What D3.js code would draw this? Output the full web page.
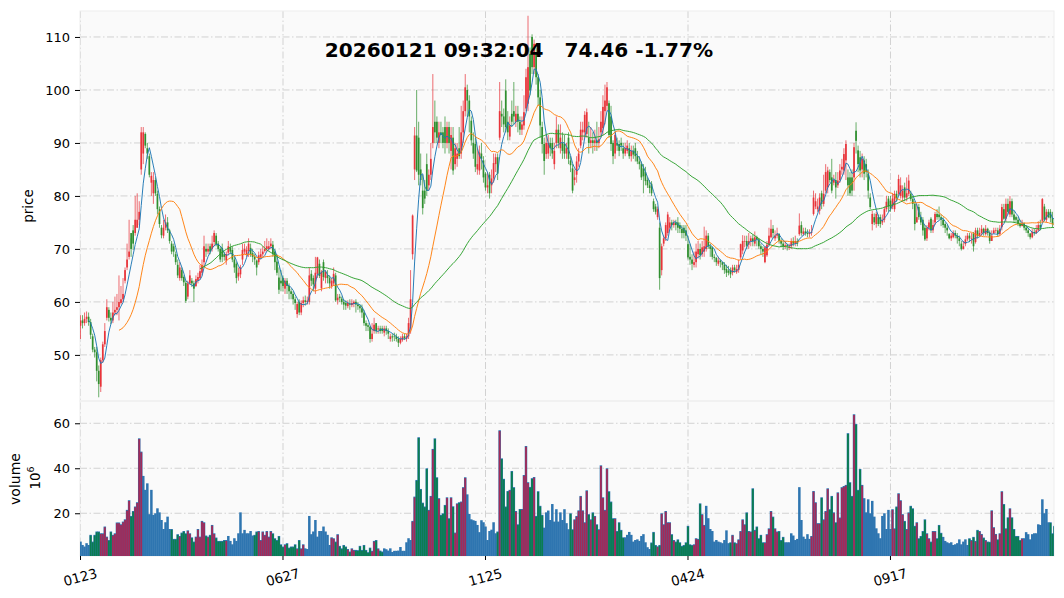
<!DOCTYPE html>
<html><head><meta charset="utf-8">
<script src="https://d3js.org/d3.v7.min.js"></script>
<style>html,body{margin:0;padding:0;background:#fff}svg{display:block;font-family:"DejaVu Sans",sans-serif}</style>
</head><body><svg id="c" width="1064" height="598"></svg>
<script>
const titleText="20260121 09:32:04   74.46 -1.77%";
const tickIdx=[0,100,200,300,400];
const tickLabels=["0123","0627","1125","0424","0917"];
const priceTicks=[50,60,70,80,90,100,110];
const volTicks=[20,40,60];
const closes=[
56.5,56,56.8,57.2,56.2,53.8,51,50.5,47,44.5,
49,52,54.5,59,57,56.5,58,58.5,59,60,
60.5,61.5,66,68,69.5,70,71,75.5,75.5,77,
92,92,89.5,88,84,83.8,83,80.5,77.5,74.7,
72.6,74,75,73.5,71.5,69.5,69.5,67.5,65,66.5,
64.5,63.7,60.2,63.5,65,63.5,62.5,64.3,64.7,65.8,
67,70.5,69.5,70,69.5,71,73,70.8,70,68,
68.5,68.5,69,70.5,69.5,68,66.5,64.5,65.5,66.5,
69.8,70,69.8,71,69,68.5,68,66.5,68.8,69,
69.5,70,70.5,70.5,71,69,67.5,65.5,62.3,63.5,
63,64,63,62,61.5,60.5,59.8,59.6,58,59.8,
60.3,60,60.2,65,64,63.3,65.5,68.4,64.9,65.7,
64.7,65.7,64.5,63.5,64,65.3,60.3,60.8,60.7,60,
59.5,59.3,59.8,59.5,59.8,60,59.5,59.2,58.8,58,
56,55.5,55.3,53,54,55.7,54.5,55,54.5,54.5,
55,54.5,54,53.5,53.3,53.5,53,52.3,53,53.5,
53.2,53.5,56,60.5,76.3,91.4,84.8,84,83,77.7,
79.5,81,84,87,93,92,91,92,91.5,90,
90,93,90,91.5,84.8,89,88,87.5,92,96,
100.5,98,95,90.5,88,85.5,86,88.2,87,83.5,
81.6,82,80.5,83.3,86.2,87.3,84.2,96,95,93.5,
93,92,93.3,94,95,95.5,94,92.5,93.5,95.8,
102.4,104.3,99.9,104.3,108.7,102.4,98.6,93.3,89.8,86.6,
90,90,89,88,88.5,92.5,90,91,88.5,88,
89,87,85.8,81,83.5,86.5,88,92.5,92.5,95.3,
95.8,90,90.5,90,90.5,90,90.7,94,96.8,98,
100.5,91.5,89.8,87.5,91.5,89.5,88.5,89.5,88,89,
89.5,87.5,88.5,87.8,87.5,86.5,86,83.5,83.7,82.8,
82,81.5,80.5,77.5,77,77.5,64.5,70.5,72,74.5,
76.5,75,74.5,75,74.5,74,73.8,73,73,72.5,
68.4,68,67.2,67.5,69.5,70,68.8,70.3,70.5,72.5,
70.5,70,68.5,68.3,67.5,67.8,67.5,67,66,65.5,
65.5,65.2,66.5,66,66.2,67,70.9,71.5,71.5,70.6,
71.5,72,71.5,72.2,71.8,70.5,70,69.5,70.3,70.8,
72.5,73.8,73,72.5,72.8,71.5,71,70.5,70.7,70.5,
70.5,71.5,71,71.5,71,74.4,73,73.3,73,72.8,
73,73.2,79.7,79,78,79.7,78.5,80.4,84.5,84.8,
83,81,83,81.6,82.9,84.8,85.5,87.9,89.8,82,
80.5,81,89.2,90.4,86,84.8,87,84.2,84.5,81,
77.9,76.6,75,76.6,74.7,74.7,75.5,77.5,78.9,78,
77.5,79.5,80.4,79.5,83.2,82,81,79.7,80.5,82.9,
79.4,78.5,74.7,76,76,75,73.5,71.8,74,75,
73.5,74.5,76.6,76,76,75.5,74.5,74,73.5,72,
72.5,73,72.5,72,71.5,70,70.5,71.8,72.5,72,
72,70.5,73.5,72.5,73,73.8,73,73.8,73,71.5,
72.5,73.5,73.5,72.8,73.8,77.9,75.7,78.5,77,79,
76.5,75.5,75.5,74.7,74.3,74.8,74,73.5,73,72.2,
73.2,73,73.5,74.5,74,79.4,75.5,77,76,75.8,74.8,74.46];
const opens=[
55.5,56.5,56,56.8,57.2,56.2,53.5,51,50.5,47,
44,49,52,57,58.5,57,56.5,58,58.5,59,
59.8,60.5,64,66.5,68.5,73,73.5,73,74,75.5,
85,88,91.7,89,87.5,82.5,80.5,83,80.4,77.5,
74,72.5,74,75,73.5,71,70.5,69,67,64.5,
66,64.7,63.6,61,63.5,64,63.5,63,64,64.5,
65.5,67.5,70,69.5,70.5,70,71.3,72.5,71,70,
70.2,69,67.8,69.3,70.3,69.8,68,67.2,64.8,65.2,
68,69.5,69,69.6,70.2,69.2,68.5,67.8,67.5,68.5,
69,69.6,70,70,70.5,70.8,69.5,67.6,64.6,64,
64.5,62.5,64,63,62,61.5,60.5,57.7,60,58,
59.8,60.3,60,60,65.3,64.5,62.5,65.3,67.2,62.6,
67.5,64.5,65,64.5,63,63.5,65,60.3,61,60.6,
60,59.8,59.2,59.7,59.4,59.6,60,59.5,59.2,58.8,
58,56,55.6,55.3,53,54.5,56,54.8,55,55,
54.2,55,54.5,53,53.5,53.6,53.5,53,52.3,52.8,
53.5,53,53.5,55,69,85,91.4,91,85,81,
81,86,82,84,90,94,94,90,92,92,
93,90,93,88.5,91,86,87,89,88,92,
96,100,98,94.2,90,89.8,85,84.8,88,86.7,
84.2,81.6,84,82,83.3,86,87.3,91,95.5,95,
99.9,94,91.2,95.5,96,94,95.5,94,92.5,93.3,
96.5,97.4,106.8,110,104.3,106.8,102.4,98.6,93,89.8,
87.9,88,90,90,86,90,92.5,89,90,89.8,
88,91,86.7,85.2,83,84,86.5,89.5,92,92,
91.7,91,90,90.5,90,90.5,90,92,92.8,96,
97,97.5,95,90,88,90,89.8,90,89,88,
88.5,89,87.5,88.5,89,87.5,86.5,86,85.2,84.5,
83,82,82.3,79,78,76,74,66,71,72,
73,74,75,74.5,75,75,74.5,73.8,74,73.5,
70.9,68.5,68,67,67.5,69,70,69,69.5,70,
72.5,70.5,70.3,68.5,68.3,67.2,67.8,67.5,67,66.2,
65.9,66,65.5,66.5,65.6,66,68.4,69.7,71.5,71.5,
70.8,71.5,72,71,72.2,71.8,70.5,70,67.5,68.8,
70.8,72.2,73.8,72,72.5,72.8,71.5,71,70.5,70.7,
70.3,70.5,71.5,71,71.5,72.8,74.5,72.8,73.3,73,
72.8,73,76.6,78,77.5,77.2,80.5,78.5,81,81.6,
84.5,83.5,82.5,83,82,83,85,84.8,86.7,83.5,
83.5,83.5,83.5,92.3,88.6,87.3,85,86.7,86,84.2,
79.7,74.7,76,74.7,76,76,75,75.5,77.5,79.5,
79.1,78,77.5,80.4,80.4,80,79.7,81.6,79.7,80.4,
80.4,79.4,78.5,75,77.9,76,75.5,74,72,74,
75.7,73.5,75,76.6,76.5,76,75.5,74.7,74,72.8,
72,72.2,73,72.5,72,71,70,70.9,71.8,72.5,
72,72.9,71.3,73.5,72.5,73,73.8,72.8,73.8,73.1,
71.5,73,73.5,73.5,72.8,74.1,77.5,75.7,78.5,76.5,
79,76.5,76,75.5,74.7,74.3,74.8,74,73.5,72.9,
72.2,73.2,73,73.5,74.5,75.3,78,75.5,77,77,75.8,75];
const highs=[
57.5,57.5,58,58.2,58,56.8,54,51.5,51.5,48,
49.5,52.5,56,60.5,59,58,60,61,61.5,65,
63,64.5,66.5,71,75.5,72,74.5,80,80.5,79,
93,93,92,90,88,84.5,84.5,83.5,81,78,
74.5,75.5,76.5,76,73.8,71.5,71,69.5,68,67.5,
66.5,65,64,64,66,64.5,64,65,65.5,67,
68,72.5,71,71,71,72.5,73.5,73,71.5,70.5,
71,69.5,69.5,71.5,71,70.5,68.5,67.5,66.5,67,
71,71,70.5,72,71,70,69,68,69.5,70,
70.5,71.5,72,71.5,72,71.5,70,69,66.5,66,
65,64.5,64.5,63.5,62.5,62,61,60,60.5,60.3,
61,61.2,61,66.5,66,65,68.5,68.5,68,66,
68,66,66,65,64.5,66.5,65.5,61.5,61.5,61,
60.5,60.3,60.3,60.5,60.5,60.3,60.5,60,59.5,59.5,
58.5,56.5,56,55.5,56,57,56,55.5,55.5,55.5,
55.5,55.5,55,54,54,54.2,54,53.5,53.5,54,
54,54,57,66,76.5,93,100,94,88,84,
83,88,85,90,103,98,95,94,94,93,
95,94,94,93,93,90,90,93,97,98,
103,101,99,95,92,91,89,89.5,90,87.5,
84.5,84.5,84.5,85,88,88,88,101.5,98,96.5,
102,96,95,98,101.5,97,97,95,95,99,
104,114,108,110.5,109.5,108,103,100,94,91,
91.5,91.5,91,91,90,95,93.5,93.5,92,91.5,
90,92,87.5,86,85,87.5,89,94,94,96,
96.5,94,93,92,92.5,94,93,96,99,101,
101.5,98,97,90.5,92,91,90.5,91,90,90,
90.5,90,89.5,89.5,90,88.5,87.5,86.5,86,85.5,
83.5,83,82.8,79.5,78.5,78,75,71,72.5,75,
77,76,75.5,75.5,75.5,76,75,74.5,74.5,74.5,
72.5,71,69,69.5,71,71.5,71,71.5,74.2,73.5,
73,71,70.5,69,68.5,68.5,68,67.5,67.5,67,
66.8,66.5,67,67,67,68,71,72.6,72.5,72.5,
73,72.5,72.7,73.3,72.5,72,71,70.5,70.5,71.5,
74,75.5,74.5,73.5,74,73,72,71.5,71.5,71,
71,72,72.2,72.5,72,76.7,75.2,74,74,73.7,
73.7,74.5,81,80.5,79.5,80.5,81,84,86,85.5,
85,87,84,84.5,84.5,86,87,89,90.5,85,
84.5,85,90,93.9,89.5,88.5,88,87.5,87,85,
80.5,77.2,76.7,77,76.5,76.5,76.5,78,80,80,
80,80.5,81,81,84,83.5,82,82.5,83.5,84,
81,80,79,78.5,78.5,77,76,74.5,74.5,75.5,
76,75.5,77,77.5,78,76.5,76,75,74.5,73,
73,73.5,73.5,73,72.5,71.5,71.5,72.5,73,73,
73,73.2,74,74,74,74.5,74,74.5,74,73.5,
73.5,74,74,74,74.5,78.5,78.5,79.5,79.5,80,
79.5,77.2,76.3,76,75.5,75.5,75,74.5,74,73,
73.8,73.8,74.5,75.2,75.5,79.6,78.5,77.5,77.5,77.5,77,79.2];
const lows=[
53,55,55.5,56,55.5,53,50.5,49.5,45,42,
43,48.5,51.5,56.5,56.3,55.8,56,57.5,57.5,56.5,
59.5,60,63.5,66,68,68.5,69.8,72.5,74,74.5,
84,86,89,87,83.5,80,78.5,80,76.5,74,
72,72,73.5,73,71,69,68.5,67,64.5,64,
64,63,59.8,60.5,63.3,62.8,60,62.8,63.5,64.2,
65,66.5,68.5,69,69,69.5,70.5,70.5,69.5,67.5,
67.5,67.8,67,68.8,69,67.5,65.5,63.5,64,64.5,
67,69,68.5,68.5,68.5,67.5,67,65,67,68,
68.5,69.3,69.5,69.7,70,68.5,66,65,61.5,62,
62,61.5,61.5,60.5,60.5,59.5,58.5,57,57.5,57.5,
59,59.3,59.5,59.5,63,62,61.5,64.5,64.5,62,
64,63.5,63.5,62.5,62.5,63,60,59.5,60,59.5,
58.5,58.5,58.8,58.5,59,59,58,58.5,58,57,
55.5,54.5,54.5,52.3,52.5,54,54,54,54,54,
53.5,53.8,53,52.5,52.5,52.6,52.5,51.5,52,52.5,
52.8,52.5,53,54,68,83,84.5,82,82,76.5,
78.5,80,81,83,89,90,90,89,90,89,
88,89,88,85,84,85,85.5,87,87,90,
95,95,92,89.5,87,84.5,84,84,85,82.5,
81,80.5,79.5,80.5,82.5,84.5,83,90.5,93,92,
92,90.5,90.5,93,93.5,93,92,91.5,91.5,92.5,
96,96,99,103,103,101,97,91,88,84,
87,87,87.5,87,85,89,89,88,87,87,
87,86,84.5,80.5,82,82.5,85.5,89,90.5,91,
91,88,89,88,88.5,88.5,89,91,91.5,93.5,
96,91,88.5,86,87,88.5,87.5,88.5,87,87.5,
88,87,86.5,87,86.5,86,85,83,80.5,82,
81.5,80.5,80,77,76.5,75.5,62.3,65,70.5,71.5,
72.5,73.5,73.5,74,73.5,73,73,72,72,71.5,
68,67,66,66.5,66.5,68.2,68,68.5,68.5,69.5,
70,68.5,68,67.5,66.8,66.8,66.5,66,65.3,64.7,
65,64.5,65,65.5,65.3,65.5,68,69,70.3,70,
70,70.5,70.5,70.5,70.5,70,69,68.5,67.3,68.5,
70.5,72,72,71.5,72,71,70.3,69.8,70,69.7,
69.8,70,70.5,70.5,70.5,72.5,72.5,72.5,72.5,72.2,
72.2,72.5,76.3,77.5,77,76.5,77.5,78,80.5,80.5,
82.5,80.5,82,79.5,81.5,82.5,84,84,83,80,
80,80,81,88,84.5,83.5,83.5,83,83.5,79.5,
77.5,73.5,74.5,74,74.3,74,74.5,75,77,77,
77,77.5,77,79,80,79.5,79,79,79,80,
79,77.5,73.5,75,75.5,74.5,72.5,71.5,71.5,73.5,
73,73,74.5,75.5,75.5,74.3,74,73,72.5,71.8,
71.5,72,72,71,70.5,69.7,69.9,70.5,71.5,71.3,
71,69.5,71,72,72.3,72.5,72.5,72.5,72.5,71,
71.5,72.8,73,72.3,72.5,73.5,75.5,75.2,76.5,76,
76,75,75,74.3,74,74.3,73.5,73,72.3,71.8,
72,72.5,72.8,73.3,73.5,75,75.2,75,75.8,75,74,73.8];
const volumes=[
7.4,5.9,5.2,6.7,5.9,10.4,7.4,10.4,11.9,11.9,
11.1,11.1,14.1,9.6,8.1,11.9,10.4,11.1,15.9,15.9,
15.1,16.3,17.3,21.5,25.8,18.8,21,23,24.9,53.3,
47.4,36.6,30.4,33.3,19.6,30.4,19.3,20,22.2,20.4,
17,13,16,18.5,13,13,8.6,8.6,10.7,9.9,
11.4,12.1,11.1,12.4,11.1,9.3,7.4,9.6,13,9.6,
16.6,16,10.1,9.6,10.4,14.8,11.1,9.2,7.7,7.7,
7.7,8.1,8.1,9.9,7.7,6.2,8.9,7.7,11.1,20.4,
11.1,12.6,11.1,11.1,12.1,10.1,10.4,11.9,12.1,8.1,
11.9,10.4,12.1,9.6,12.1,11.1,8.9,8.1,9.9,6.2,
5.2,6.2,6.7,4.7,5.2,5.2,6.2,4.4,8.1,4.4,
6.2,4.4,4.1,18.8,10.7,11.9,17,9.6,12.1,12.1,
14.1,11.9,10.4,5.9,9.3,8.9,7.4,10.7,5.5,4.4,
5.9,5.2,4.1,3,4.4,3.7,3.7,3.6,5.5,3.7,
5.9,3.7,2.7,4.7,3.3,7.7,8.1,4.4,3.4,3,
4.4,4,3.4,4.4,2.8,3.3,3.3,3.4,5,3.3,
3.3,7.1,8.9,8.1,16.6,27.4,34.8,53.8,30.8,24.7,
23,40,21.5,27.7,48.6,53.3,36,26.7,19.3,20,
23.7,27.1,17.8,27.1,23.1,11.4,24.4,24.9,25.2,31.6,
36,28.4,19.7,17.3,16.9,16.6,14.8,11.6,16.9,16,
14.1,8.1,12.1,12.7,16,11.1,11.9,56.9,44.4,35.3,
23,29.9,30.4,38.8,31.6,21,15.1,21.9,21.9,37,
49.9,33.8,31.7,35.6,36.1,18.8,29.8,23.3,19.3,13.6,
20.4,21.2,17,24.1,16.3,21.8,16.3,20.4,17,21.8,
15.6,12.9,20,12.9,17.3,18.8,21.3,27.7,21.3,16,
30.2,19.6,17.3,20.4,18.8,15.1,12.9,41.3,27.1,21.5,
40,29.8,25.2,17.8,17.8,12.1,16,12.6,9.3,9.3,
10.4,11.7,10.4,7.4,8.1,8.4,7.7,9.9,10.7,7.1,
4.9,4.1,7,11.7,5.9,5.3,5.9,20,15.1,21,
16,16,10.7,8.1,7.4,8.4,7.1,5.5,5.9,7.1,
14.4,6.2,5.9,6.2,8.9,8.6,24.4,19.6,14.8,23.3,
17.8,13,12.1,7.4,8.1,7.4,7.1,6.7,8.1,12.4,
6.7,7.1,10.4,7.1,6.7,8.4,12.1,17.3,15.1,20.4,
12.1,11.9,31.1,12.6,14.1,8.9,10.4,7.1,7.1,10.7,
13.3,21,18.5,13.3,11.9,12.1,8.1,9.5,7.1,7.1,
7.1,11.1,10.1,8.1,8.6,31.6,17,9.6,8.6,10.7,
8.6,9.9,29.9,24.9,15.6,15.6,27.1,17.3,21,31.1,
21.8,27.7,20.4,16,29.3,18.1,31.6,32.1,32.6,55.6,
33.8,27.7,64,59.7,30.4,39.7,32.6,26.7,20.4,26.2,
20,25.5,18.5,13.3,11.1,8.9,18.8,20,13,21.5,
13,21.8,13.3,23,28.9,25.8,19.6,16.6,13,20.4,
23.3,22.2,14.4,16,8.9,9.9,12.1,17.3,11.1,8.9,
7.4,12.1,12.1,8.9,14.8,11.3,9.5,7.7,7.1,6.7,
7.1,5.9,6.2,6.7,8.4,6.2,7.4,8.4,5.9,8.9,
8.1,9.5,7.7,12.6,12.1,10.8,9.2,8.1,7.4,7.3,
21.3,13.8,10.8,8.4,11.1,29.8,24.1,13.3,18.2,22.2,
18.2,13,9.9,9.9,8.1,8.9,8.9,11.6,10.7,8.4,
10.7,11.1,11.1,15.1,14.8,26.2,20,21.9,16,16,11.1,14.4];
const colouredRuns=[[5,30],[45,72],[86,110],[124,149],[164,190],[206,228],[242,268],[282,308],[321,347],[361,386],[401,425],[439,465],[479,481]];
const maWindows=[5,20,60];
const maColours=["#1f77b4","#ff7f0e","#2ca02c"];

const svg=d3.select("#c");
const L=80,R=1054,PT=11,PB=401,VB=556;
const x=d3.scaleLinear().domain([0,481]).range([80.5,1054.5]);
const yP=d3.scaleLinear().domain([41.3,114.9]).range([PB,PT]);
const yV=d3.scaleLinear().domain([1,69.9]).range([VB,PB]);
const n=closes.length;
const idx=d3.range(n);
const defs=svg.append("defs");
defs.append("clipPath").attr("id","pc").append("rect").attr("x",L).attr("y",PT).attr("width",R-L).attr("height",PB-PT);
defs.append("clipPath").attr("id","vc").append("rect").attr("x",L).attr("y",PB).attr("width",R-L).attr("height",VB-PB);
svg.append("rect").attr("x",L).attr("y",PT).attr("width",R-L).attr("height",VB-PT).attr("fill","#fafafa");
const gridC="#d2d2d2",dash="7 2.5 1.5 2.5";
const grid=svg.append("g").attr("fill","none").attr("stroke",gridC).attr("stroke-width",1).attr("stroke-dasharray",dash);
priceTicks.forEach(t=>grid.append("line").attr("x1",L).attr("x2",R).attr("y1",yP(t)).attr("y2",yP(t)));
volTicks.forEach(t=>grid.append("line").attr("x1",L).attr("x2",R).attr("y1",yV(t)).attr("y2",yV(t)));
tickIdx.forEach(t=>grid.append("line").attr("x1",x(t)).attr("x2",x(t)).attr("y1",PT).attr("y2",VB));
// spines
const sp=svg.append("g").attr("stroke","#eeeeee").attr("fill","none");
sp.append("rect").attr("x",L).attr("y",PT).attr("width",R-L).attr("height",PB-PT);
sp.append("rect").attr("x",L).attr("y",PB).attr("width",R-L).attr("height",VB-PB);

// volume
const isColoured=i=>colouredRuns.some(r=>i>=r[0]&&i<=r[1]);
const vg=svg.append("g").attr("clip-path","url(#vc)");
vg.selectAll("rect.b").data(idx).join("rect").attr("class","b")
 .attr("x",i=>x(i)-1.25).attr("width",2.5).attr("y",i=>yV(volumes[i])).attr("height",i=>VB-yV(volumes[i]))
 .attr("fill","#2e75b0");
vg.selectAll("rect.o").data(idx.filter(isColoured)).join("rect").attr("class","o")
 .attr("x",i=>x(i)-0.9).attr("width",1.8).attr("y",i=>yV(volumes[i])+0.8).attr("height",i=>Math.max(0,VB-yV(volumes[i])-0.8))
 .attr("fill",i=>closes[i]>=opens[i]?"#a32a58":"#0a7d50");

// candles
const up="#e8343a",dn="#2f8f2f";
const cg=svg.append("g").attr("clip-path","url(#pc)");
cg.selectAll("line").data(idx).join("line")
 .attr("x1",i=>x(i)).attr("x2",i=>x(i)).attr("y1",i=>yP(highs[i])).attr("y2",i=>yP(lows[i]))
 .attr("stroke",i=>closes[i]>=opens[i]?up:dn).attr("stroke-width",0.8).attr("stroke-opacity",0.9);
cg.selectAll("rect").data(idx).join("rect")
 .attr("x",i=>x(i)-0.85).attr("width",1.7)
 .attr("y",i=>yP(Math.max(opens[i],closes[i])))
 .attr("height",i=>Math.max(0.6,Math.abs(yP(opens[i])-yP(closes[i]))))
 .attr("fill",i=>closes[i]>=opens[i]?up:dn);

// moving averages
const rolling=w=>closes.map((c,i)=>i<w-1?null:d3.mean(closes.slice(i-w+1,i+1)));
const line=d3.line().defined(d=>d!==null).x((d,i)=>x(i)).y(d=>yP(d));
maWindows.forEach((w,k)=>cg.append("path").attr("d",line(rolling(w))).attr("fill","none")
 .attr("stroke",maColours[k]).attr("stroke-width",1).attr("stroke-opacity",0.95));

// axes
const ax=(g)=>{g.select(".domain").remove();g.selectAll("text").attr("fill","#000").attr("font-size",13).attr("font-family","DejaVu Sans");g.selectAll("line").attr("stroke","#000");};
svg.append("g").attr("transform",`translate(${L},0)`).call(d3.axisLeft(yP).tickValues(priceTicks).tickSize(5).tickPadding(5)).call(ax);
svg.append("g").attr("transform",`translate(${L},0)`).call(d3.axisLeft(yV).tickValues(volTicks).tickSize(5).tickPadding(5)).call(ax);
const xa=svg.append("g").attr("transform",`translate(0,${VB})`).call(d3.axisBottom(x).tickValues(tickIdx).tickFormat((d,i)=>tickLabels[i]).tickSize(4).tickPadding(0)).call(ax);
xa.selectAll("text").attr("font-size",13.5).attr("text-anchor","middle").attr("dy",0).attr("y",0).attr("dominant-baseline","middle")
 .attr("x",d=>x(d)).attr("transform",d=>`translate(0,22) rotate(-15 ${x(d)} 0)`);
xa.selectAll(".tick").attr("transform",null);
xa.selectAll(".tick line").attr("x1",d=>x(d)).attr("x2",d=>x(d));

svg.append("text").attr("transform","translate(29,206) rotate(-90)").attr("text-anchor","middle").attr("dominant-baseline","middle").attr("font-size",13.5).text("price");
svg.append("text").attr("transform","translate(16,479) rotate(-90)").attr("text-anchor","middle").attr("dominant-baseline","middle").attr("font-size",14).text("volume");
const t6=svg.append("text").attr("transform","translate(36,478) rotate(-90)").attr("text-anchor","middle").attr("dominant-baseline","middle").attr("font-size",13.5);
t6.append("tspan").text("10");
t6.append("tspan").attr("font-size",9.5).attr("dy",-5).text("6");
svg.append("text").attr("x",519).attr("y",57).attr("text-anchor","middle").attr("font-size",20.1).attr("font-weight","bold").attr("fill","#000").style("white-space","pre").text(titleText);
</script></body></html>
